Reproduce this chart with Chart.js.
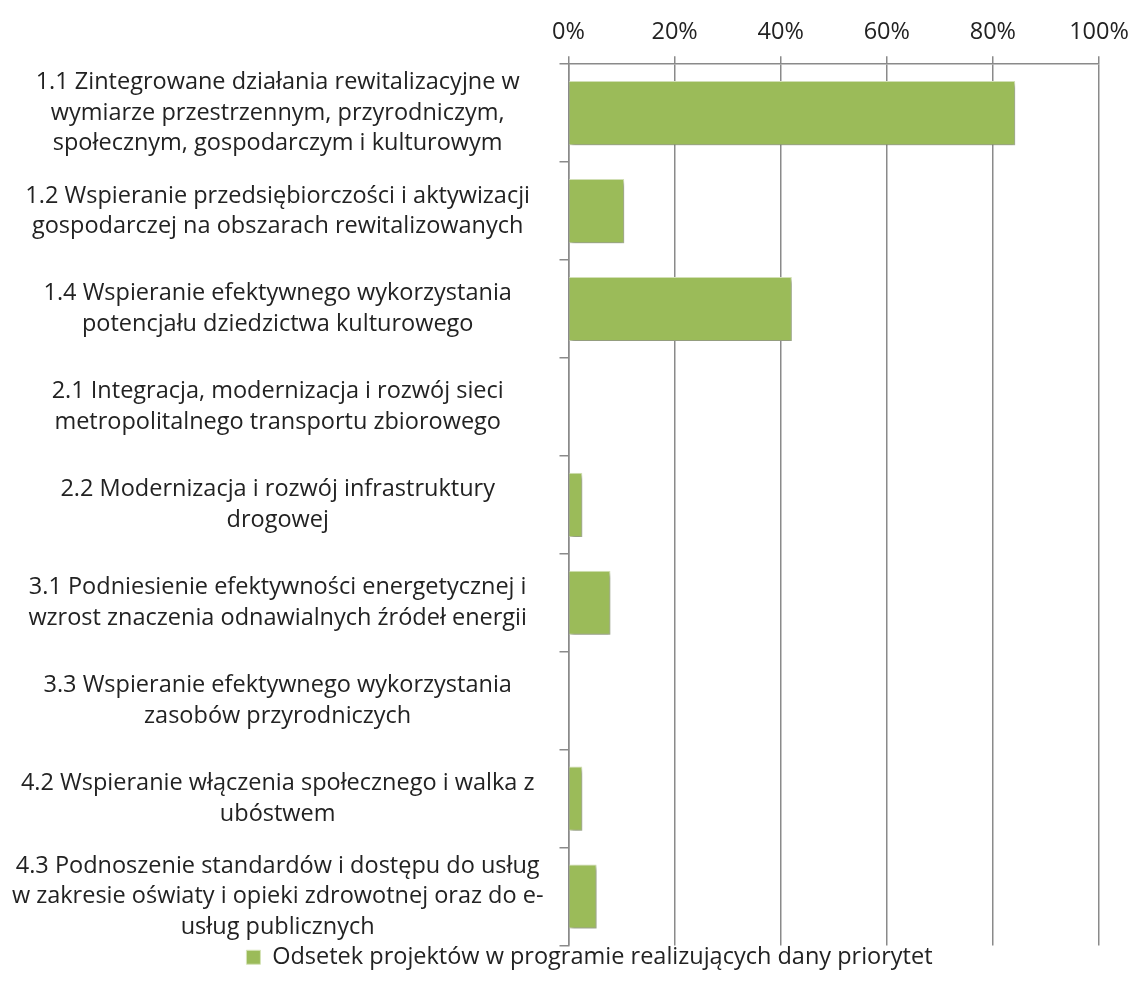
<!DOCTYPE html>
<html>
<head>
<meta charset="utf-8">
<script src="https://cdn.jsdelivr.net/npm/chart.js@4/dist/chart.umd.min.js"></script>
<style>
  html, body { margin: 0; padding: 0; background: #fff; }
  #wrap { width: 1133px; height: 981px; }
</style>
</head>
<body>
<div id="wrap"><canvas id="chart"></canvas></div>
<script>
// Data
var categories = [
  ["1.1 Zintegrowane działania rewitalizacyjne w", "wymiarze przestrzennym, przyrodniczym,", "społecznym, gospodarczym i kulturowym"],
  ["1.2 Wspieranie przedsiębiorczości i aktywizacji", "gospodarczej na obszarach rewitalizowanych"],
  ["1.4 Wspieranie efektywnego wykorzystania", "potencjału dziedzictwa kulturowego"],
  ["2.1 Integracja, modernizacja i rozwój sieci", "metropolitalnego transportu zbiorowego"],
  ["2.2 Modernizacja i rozwój infrastruktury", "drogowej"],
  ["3.1 Podniesienie efektywności energetycznej i", "wzrost znaczenia odnawialnych źródeł energii"],
  ["3.3 Wspieranie efektywnego wykorzystania", "zasobów przyrodniczych"],
  ["4.2 Wspieranie włączenia społecznego i walka z", "ubóstwem"],
  ["4.3 Podnoszenie standardów i dostępu do usług", "w zakresie oświaty i opieki zdrowotnej oraz do e-", "usług publicznych"]
];
var shareValues = [84.2, 10.5, 42.1, 0, 2.6, 7.9, 0, 2.6, 5.3];
var seriesName = "Odsetek projektów w programie realizujących dany priorytet";
var xTicks = [0, 20, 40, 60, 80, 100];

var FONT = "'Open Sans', sans-serif";
var FSIZE = 23.5;
var GRID = "#8a8a8a";

// soft drop shadow under the bars, like the office chart
var barShadow = {
  id: "barShadow",
  beforeDatasetsDraw: function(chart) {
    var c = chart.ctx;
    c.save();
    c.shadowColor = "rgba(0,0,0,0.35)";
    c.shadowBlur = 4;
    c.shadowOffsetX = 2;
    c.shadowOffsetY = 3;
  },
  afterDatasetsDraw: function(chart) {
    chart.ctx.restore();
  }
};

// legend sits a bit right of the canvas centre in the original
var legendShift = {
  id: "legendShift",
  afterLayout: function(chart) {
    chart.legend.left += 42;
  }
};

var ctx = document.getElementById("chart").getContext("2d");
var chart = new Chart(ctx, {
  type: "bar",
  data: {
    labels: categories,
    datasets: [{
      label: seriesName,
      data: shareValues,
      backgroundColor: "#9BBB59",
      borderColor: "#d5e3b8",
      borderWidth: 1,
      barPercentage: 0.655,
      categoryPercentage: 1
    }]
  },
  options: {
    indexAxis: "y",
    responsive: true,
    maintainAspectRatio: false,
    animation: false,
    layout: { padding: { top: 8, left: 4, right: 0, bottom: 2 } },
    scales: {
      x: {
        position: "top",
        min: 0,
        max: 100,
        afterBuildTicks: function(axis) {
          axis.ticks = xTicks.map(function(v) { return { value: v }; });
        },
        afterFit: function(scale) {
          scale.paddingRight = 34;
        },
        ticks: {
          callback: function(v) { return v + "%"; },
          font: { family: FONT, size: FSIZE },
          color: "#222",
          padding: 10,
          maxRotation: 0
        },
        grid: { color: GRID, lineWidth: 1.5, tickLength: 8 },
        border: { color: GRID, width: 1.5 }
      },
      y: {
        afterFit: function(scale) {
          // the 3-line labels fit inside their rows, no extra room needed
          scale.paddingTop = 0;
          scale.paddingBottom = 0;
        },
        ticks: {
          font: { family: FONT, size: FSIZE, lineHeight: 30.5 / FSIZE },
          color: "#222",
          crossAlign: "center",
          padding: 16,
          autoSkip: false
        },
        grid: { drawOnChartArea: false, color: GRID, lineWidth: 1.5, tickLength: 9, offset: true },
        border: { color: GRID, width: 1.5 }
      }
    },
    plugins: {
      legend: {
        position: "bottom",
        labels: {
          font: { family: FONT, size: FSIZE, lineHeight: 1 },
          color: "#222",
          boxWidth: 14,
          boxHeight: 14,
          padding: 0
        }
      },
      tooltip: { enabled: false }
    }
  },
  plugins: [barShadow, legendShift]
});
</script>
</body>
</html>
